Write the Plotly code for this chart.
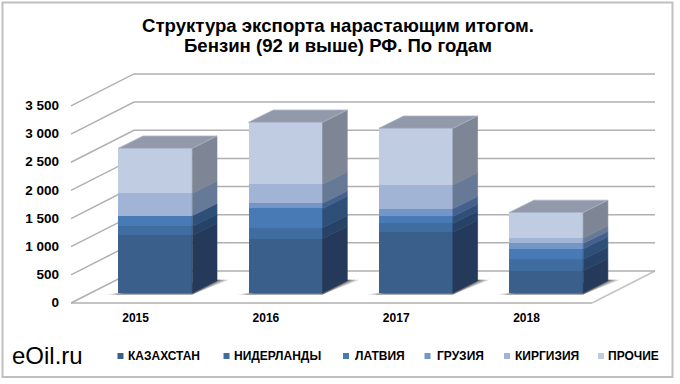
import plotly.graph_objects as go

years = ["2015", "2016", "2017", "2018"]
series_names = ["КАЗАХСТАН", "НИДЕРЛАНДЫ", "ЛАТВИЯ", "ГРУЗИЯ", "КИРГИЗИЯ", "ПРОЧИЕ"]
kazakhstan = [1022, 963, 1075, 390]
netherlands = [160, 195, 160, 207]
latvia = [190, 343, 124, 183]
georgia = [0, 95, 136, 100]
kyrgyzstan = [400, 337, 425, 95]
other = [798, 1099, 1005, 455]
y_ticks = [0, 500, 1000, 1500, 2000, 2500, 3000, 3500]
y_tick_labels = ["0", "500", "1 000", "1 500", "2 000", "2 500", "3 000", "3 500"]

series_values = [kazakhstan, netherlands, latvia, georgia, kyrgyzstan, other]
front_colors = ["#3a5f8b", "#3f6ca1", "#487ab5", "#7396c8", "#a1b4d5", "#c0cce2"]
side_colors = ["#25395a", "#274267", "#2e4f78", "#44608d", "#667a98", "#7e8696"]
top_color = "#9199ab"
grid_color = "#b0b0b0"

# frame of the plot area in pixels
W, H = 680, 384
L, R, T, B = 62, 676, 60, 309
PX_PER_CAT = 130.3
PX_PER_UNIT = 28.15 / 500
CENTER0_PX = 155.3
BASE_PX = 293
LABEL_ZERO_PX = 302.5
BAR_W = 74 / PX_PER_CAT


def px_to_x(p):
    return (p - CENTER0_PX) / PX_PER_CAT


def px_to_y(p):
    return (BASE_PX - p) / PX_PER_UNIT


def paper_x(p):
    return (p - L) / (R - L)


def paper_y(p):
    return (B - p) / (B - T)


# depth vectors in data units
BAR_DX = 24.7 / PX_PER_CAT
BAR_DY = 12.3 / PX_PER_UNIT
FRONT_DX = -19.7 / PX_PER_CAT
FRONT_DY = -10 / PX_PER_UNIT
BACK_DX = 43.3 / PX_PER_CAT
BACK_DY = 22 / PX_PER_UNIT
X_LEFT = px_to_x(71) - FRONT_DX
X_RIGHT = px_to_x(592) - FRONT_DX

fig = go.Figure()
shapes = []


def poly(xs, ys, fill, line=None, width=0.6):
    fig.add_trace(go.Scatter(
        x=xs + xs[:1], y=ys + ys[:1], mode="lines", fill="toself", fillcolor=fill,
        line=dict(color=line or fill, width=width), hoverinfo="skip", showlegend=False))


def below_path(xs, ys, fill=None, line=None, width=0):
    path = "M " + " L ".join("%f %f" % p for p in zip(xs, ys))
    s = dict(type="path", xref="x", yref="y", layer="below", path=path + (" Z" if fill else ""),
             line=dict(color=line, width=width) if line else dict(width=0))
    if fill:
        s["fillcolor"] = fill
    shapes.append(s)


# floor outline and walls
x_fl, y_fl = X_LEFT + FRONT_DX, FRONT_DY
x_bl, y_bl = X_LEFT + BACK_DX, BACK_DY
x_fr, x_br = X_RIGHT + FRONT_DX, X_RIGHT + BACK_DX
below_path([x_fr, x_br], [y_fl, y_bl], line="#c4c4c4", width=1.6)
below_path([x_fl, x_fr], [y_fl, y_fl], line="#c4c4c4", width=2)
for v in y_ticks:
    below_path([x_fl, x_bl, x_br], [v + y_fl, v + y_bl, v + y_bl], line=grid_color, width=1.5)

# shadows on the floor
half = BAR_W / 2
px_x, px_y = 1 / PX_PER_CAT, 1 / PX_PER_UNIT
for i in range(len(years)):
    xl, xr = i - half, i + half
    for extra, alpha in ((12, 0.2), (8, 0.3), (4, 0.4)):
        below_path([xl - extra * px_x, xr, xr + BAR_DX + extra * px_x, xr + BAR_DX],
                   [-1.5 * px_y, -1.5 * px_y, BAR_DY + 1 * px_y, BAR_DY + 1 * px_y],
                   fill="rgba(40,40,40,%.2f)" % alpha)

# side and top faces
for i in range(len(years)):
    xl, xr = i - half, i + half
    base = 0
    for s, vals in enumerate(series_values):
        top = base + vals[i]
        if vals[i] > 0:
            poly([xr, xr + BAR_DX, xr + BAR_DX, xr],
                 [base, base + BAR_DY, top + BAR_DY, top], side_colors[s])
        base = top
    poly([xl, xl + BAR_DX, xr + BAR_DX, xr],
         [base, base + BAR_DY, base + BAR_DY, base], top_color, "#a9b3c6", 0.8)

# front faces
for s, vals in enumerate(series_values):
    fig.add_trace(go.Bar(x=list(range(len(years))), y=vals, width=BAR_W, name=series_names[s],
                         marker=dict(color=front_colors[s], line=dict(width=0)),
                         showlegend=False))

# axes that carry the labels, on the front plane of the floor
fig.add_trace(go.Scatter(x=[0, 3], y=[0, 3500], xaxis="x2", yaxis="y2", mode="markers",
                         marker=dict(opacity=0), hoverinfo="skip", showlegend=False))

font_tick = dict(family="Liberation Sans", size=12, color="#000000")
font_ytick = dict(family="Liberation Sans", size=13.5, color="#000000")
font_title = dict(family="Liberation Sans", size=18.6, color="#000000")
fig.update_layout(
    width=W, height=H, barmode="stack", bargap=0,
    paper_bgcolor="white", plot_bgcolor="rgba(0,0,0,0)",
    margin=dict(l=L, r=W - R, t=T, b=H - B),
    title=dict(text="<b>Структура экспорта нарастающим итогом.</b>",
               x=338 / W, xanchor="center", y=1 - 25 / H, yanchor="middle", font=font_title),
    xaxis=dict(range=[px_to_x(L), px_to_x(R)], visible=False),
    yaxis=dict(range=[px_to_y(B), px_to_y(T)], visible=False),
    xaxis2=dict(range=[px_to_x(L) - FRONT_DX, px_to_x(R) - FRONT_DX], overlaying="x", side="bottom",
                anchor="y", tickmode="array", tickvals=list(range(len(years))),
                ticktext=["<b>%s</b>" % y for y in years],
                showgrid=False, zeroline=False, showline=False, ticks="", tickfont=font_tick),
    yaxis2=dict(range=[(LABEL_ZERO_PX - B) / PX_PER_UNIT, (LABEL_ZERO_PX - T) / PX_PER_UNIT],
                overlaying="y", side="left", anchor="x", tickmode="array", tickvals=y_ticks,
                ticktext=["<b>%s</b>" % t for t in y_tick_labels], ticklabelstandoff=2,
                showgrid=False, zeroline=False, showline=False, ticks="", tickfont=font_ytick),
    hovermode=False,
)

# second title line, site name and legend
ann = [
    dict(text="<b>Бензин (92 и выше) РФ. По годам</b>", x=paper_x(338), y=paper_y(46), xref="paper",
         yref="paper", xanchor="center", yanchor="middle", showarrow=False, font=font_title),
    dict(text="eOil.ru", x=paper_x(10), y=paper_y(355), xref="paper", yref="paper", xanchor="left",
         yanchor="middle", showarrow=False,
         font=dict(family="Liberation Sans", size=24, color="#000000")),
]
legend_x = [126, 232, 353, 435, 513, 606]
legend_marker_x = [120.5, 226.5, 346, 427.5, 507, 601]
for name, px, mx, col in zip(series_names, legend_x, legend_marker_x, front_colors):
    ann.append(dict(text="<b>%s</b>" % name, x=paper_x(px), y=paper_y(356),
                    xref="paper", yref="paper", xanchor="left", yanchor="middle", showarrow=False,
                    font=dict(family="Liberation Sans", size=12, color="#000000")))
    shapes.append(dict(type="rect", xref="paper", yref="paper",
                       x0=paper_x(mx - 3), x1=paper_x(mx + 3),
                       y0=paper_y(359), y1=paper_y(353),
                       fillcolor=col, line=dict(width=0)))
# outer frame
shapes.append(dict(type="rect", xref="paper", yref="paper", x0=paper_x(2.5), x1=paper_x(672.5),
                   y0=paper_y(377), y1=paper_y(2.5), line=dict(color="#c0c0c0", width=2)))
fig.update_layout(annotations=ann, shapes=shapes)

fig.write_html("out.html", config=dict(displayModeBar=False),
               post_script="document.body.style.margin='0';")
